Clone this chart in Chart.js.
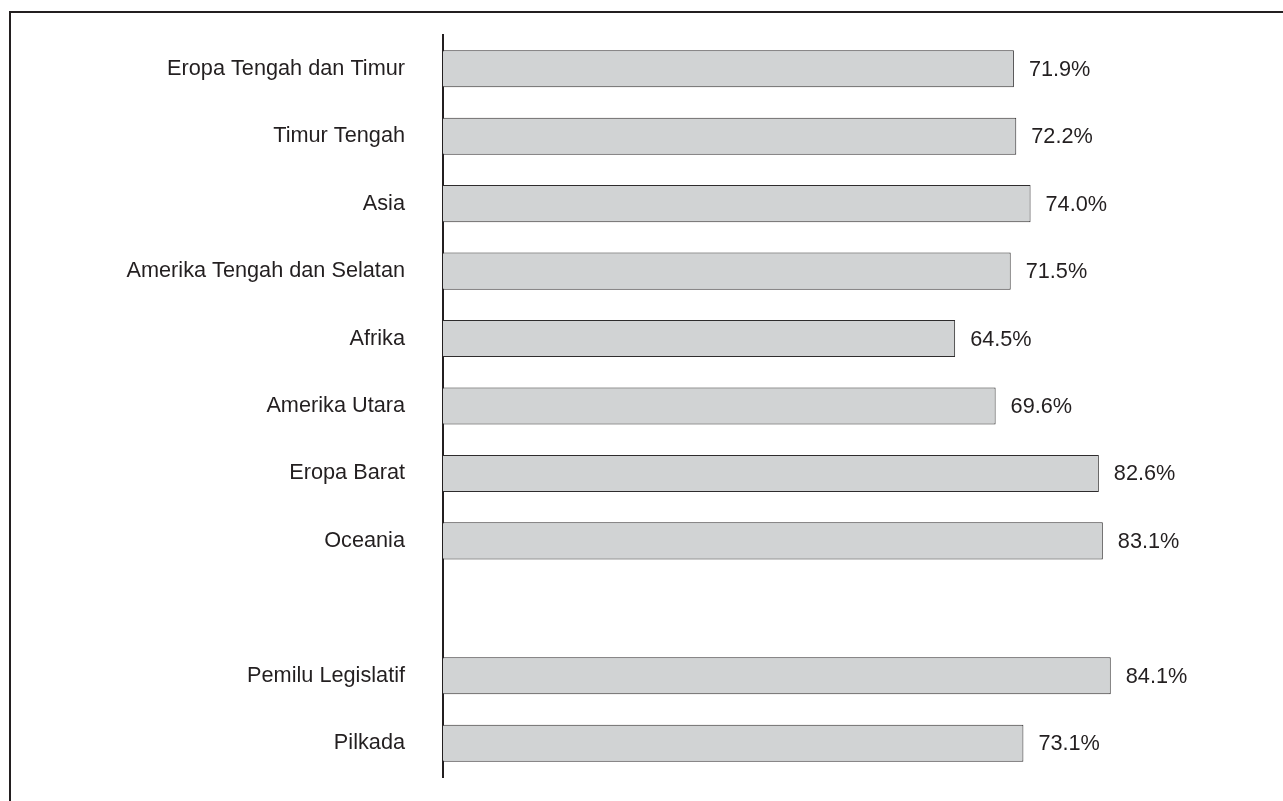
<!DOCTYPE html>
<html>
<head>
<meta charset="utf-8">
<script src="https://cdn.jsdelivr.net/npm/chart.js@4"></script>
<style>
    body { margin: 0; background: #ffffff; }
    #wrap { position: relative; width: 1283px; height: 801px; }
    #frame {
        position: absolute; left: 9px; top: 11px; right: 0; bottom: 0;
        border-top: 2px solid #231f20; border-left: 2px solid #231f20;
        pointer-events: none;
    }
</style>
</head>
<body>
<div id="wrap">
    <canvas id="turnoutChart" width="1283" height="801"></canvas>
    <div id="frame"></div>
</div>
<script>
const regions = [
    'Eropa Tengah dan Timur',
    'Timur Tengah',
    'Asia',
    'Amerika Tengah dan Selatan',
    'Afrika',
    'Amerika Utara',
    'Eropa Barat',
    'Oceania',
    '',
    'Pemilu Legislatif',
    'Pilkada'
];
const turnout = [71.9, 72.2, 74.0, 71.5, 64.5, 69.6, 82.6, 83.1, null, 84.1, 73.1];

const textColor = '#231f20';
const fontFamily = '"Liberation Sans", Arial, sans-serif';
const fontSize = 21.7;

// value labels to the right of each bar
const valueLabels = {
    id: 'valueLabels',
    afterDatasetsDraw(chart) {
        const ctx = chart.ctx;
        const meta = chart.getDatasetMeta(0);
        ctx.save();
        ctx.font = fontSize + 'px ' + fontFamily;
        ctx.fillStyle = textColor;
        ctx.textAlign = 'left';
        ctx.textBaseline = 'middle';
        meta.data.forEach((bar, i) => {
            const v = turnout[i];
            if (v === null) return;
            ctx.fillText(v.toFixed(1) + '%', bar.x + 15, bar.y + 1);
        });
        ctx.restore();
    }
};

document.addEventListener('DOMContentLoaded', () => {
    const ctx = document.getElementById('turnoutChart').getContext('2d');
    new Chart(ctx, {
        type: 'bar',
        data: {
            labels: regions,
            datasets: [{
                data: turnout,
                backgroundColor: '#d1d3d4',
                borderColor: '#2e2c2d',
                borderWidth: 1,
                borderSkipped: 'start',
                categoryPercentage: 1,
                barPercentage: 0.55
            }]
        },
        options: {
            indexAxis: 'y',
            responsive: false,
            animation: false,
            layout: {
                padding: { left: 10, right: 46, top: 35, bottom: 24 }
            },
            scales: {
                x: {
                    display: false,
                    min: 0,
                    max: 100
                },
                y: {
                    afterFit: (scale) => {
                        scale.width = 433;
                        scale.paddingTop = 0;
                        scale.paddingBottom = 0;
                    },
                    grid: {
                        display: false,
                        drawTicks: false
                    },
                    border: {
                        display: true,
                        color: textColor,
                        width: 2
                    },
                    ticks: {
                        padding: 38,
                        color: textColor,
                        font: { family: fontFamily, size: fontSize }
                    }
                }
            },
            plugins: {
                legend: { display: false },
                tooltip: { enabled: false }
            }
        },
        plugins: [valueLabels]
    });
});
</script>
</body>
</html>
